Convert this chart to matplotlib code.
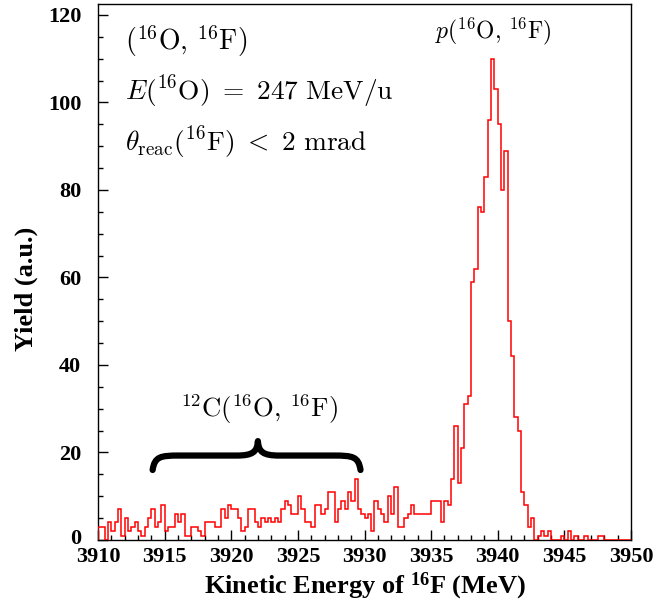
import numpy as np
import matplotlib
matplotlib.use("Agg")
import matplotlib.pyplot as plt
import matplotlib.transforms as mtransforms
from matplotlib.path import Path
from matplotlib.patches import PathPatch
from matplotlib.ticker import MultipleLocator

# ---- data: histogram of 16F kinetic energy, 0.25 MeV bins from 3910 to 3950 MeV ----
bin_start = 3910.0
bin_width = 0.25
counts = [
    3, 3, 0, 4, 2, 4, 7, 1, 5, 2, 3, 4, 2, 1, 3, 5, 7, 3, 4, 8,
    2, 3, 3, 6, 4, 6, 1, 1, 3, 3, 2, 1, 4, 4, 4, 3, 3, 7, 5, 8,
    7, 7, 5, 2, 3, 7, 7, 4, 3, 5, 4, 5, 4, 5, 4, 7, 9, 8, 6, 6,
    10, 7, 4, 4, 3, 8, 8, 6, 7, 11, 11, 4, 7, 9, 7, 11, 9, 14, 7, 6,
    5, 6, 2, 9, 7, 6, 4, 10, 6, 12, 3, 3, 5, 6, 8, 6, 6, 6, 6, 6,
    9, 9, 9, 4, 9, 8, 14, 26, 13, 21, 31, 33, 59, 62, 76, 75, 83, 96, 110, 103,
    95, 80, 89, 50, 42, 28, 25, 11, 8, 3, 5, 0, 1, 2, 1, 2, 0, 0, 0, 1,
    0, 2, 0, 1, 0, 0, 1, 0, 0, 0, 1, 1, 0, 0, 0, 0, 0, 0, 0, 0,
]
edges = bin_start + bin_width * np.arange(len(counts) + 1)

x_ticks = [3910, 3915, 3920, 3925, 3930, 3935, 3940, 3945, 3950]
y_ticks = [0, 20, 40, 60, 80, 100, 120]

plt.rcParams["mathtext.fontset"] = "custom"
plt.rcParams["mathtext.rm"] = "Liberation Serif:bold"
plt.rcParams["mathtext.bf"] = "Liberation Serif:bold"
plt.rcParams["mathtext.it"] = "Liberation Serif:bold:italic"

fig = plt.figure(figsize=(6.56, 6.08), dpi=100)
ax = fig.add_axes([98 / 656, 1 - 540 / 608, 533 / 656, 536 / 608])

ax.stairs(counts, edges, color="#ff0000", linewidth=1.1, baseline=0, zorder=3)

ax.set_xlim(3910, 3950)
ax.set_ylim(0, 122.5)
ax.set_xticks(x_ticks)
ax.set_yticks(y_ticks)
ax.xaxis.set_minor_locator(MultipleLocator(1))
ax.yaxis.set_minor_locator(MultipleLocator(5))
ax.tick_params(which="both", direction="in", top=False, right=False, width=1.0)
ax.tick_params(which="major", length=7.5)
ax.tick_params(which="minor", length=3.8)
ax.tick_params(axis="x", which="major", pad=5)
ax.tick_params(axis="y", which="major", pad=12)
for lab in ax.get_xticklabels() + ax.get_yticklabels():
    lab.set_fontfamily("Liberation Serif")
    lab.set_fontweight("bold")
    lab.set_fontsize(16)
# lift the "0" label a few pixels so it clears the "3910" label
zero_lab = ax.yaxis.get_major_ticks()[0].label1
zero_lab.set_transform(zero_lab.get_transform() +
                       mtransforms.ScaledTranslation(0, 3 / 100, fig.dpi_scale_trans))
for sp in ax.spines.values():
    sp.set_linewidth(1.0)

ax.set_xlabel(r"Kinetic Energy of $^{\mathbf{16}}$F (MeV)", fontfamily="Liberation Serif",
              fontweight="bold", fontsize=19, labelpad=3)
ax.set_ylabel("Yield (a.u.)", fontfamily="Liberation Serif", fontweight="bold", fontsize=19)
ax.yaxis.set_label_coords(-0.113, 0.468)

# annotations (LaTeX-like)
cm = dict(math_fontfamily="cm", color="black")
ax.text(0.05, 0.915, r"$(^{16}\mathrm{O},\, ^{16}\mathrm{F})$", transform=ax.transAxes, fontsize=20, **cm)
ax.text(0.05, 0.822, r"$E(^{16}\mathrm{O})\ =\ 247\ \mathrm{MeV/u}$", transform=ax.transAxes, fontsize=19.7, **cm)
ax.text(0.05, 0.727, r"$\theta_{\mathrm{reac}}(^{16}\mathrm{F})\ <\ 2\ \mathrm{mrad}$", transform=ax.transAxes, fontsize=19.7, **cm)
ax.text(0.633, 0.935, r"$p(^{16}\mathrm{O},\, ^{16}\mathrm{F})$", transform=ax.transAxes, fontsize=17, **cm)
ax.text(0.153, 0.23, r"$^{12}\mathrm{C}(^{16}\mathrm{O},\, ^{16}\mathrm{F})$", transform=ax.transAxes, fontsize=19.2, **cm)

# curly brace
x0, xm, x1 = 3914.1, 3922.0, 3929.7
yt, yb, yc = 16.0, 19.3, 22.6
verts = [
    (x0, yt), (x0 + 0.15, yb - 0.2), (x0 + 0.6, yb), (x0 + 2.0, yb),
    (xm - 1.6, yb),
    (xm - 0.4, yb), (xm - 0.05, yb + 0.8), (xm, yc),
    (xm + 0.05, yb + 0.8), (xm + 0.4, yb), (xm + 1.6, yb),
    (x1 - 2.0, yb),
    (x1 - 0.6, yb), (x1 - 0.15, yb - 0.2), (x1, yt),
]
codes = [Path.MOVETO, Path.CURVE4, Path.CURVE4, Path.CURVE4,
         Path.LINETO,
         Path.CURVE4, Path.CURVE4, Path.CURVE4,
         Path.CURVE4, Path.CURVE4, Path.CURVE4,
         Path.LINETO,
         Path.CURVE4, Path.CURVE4, Path.CURVE4]
ax.add_patch(PathPatch(Path(verts, codes), fill=False, lw=4.5, color="black",
                       capstyle="round", joinstyle="round", zorder=4))

fig.savefig("out.png", dpi=100)
